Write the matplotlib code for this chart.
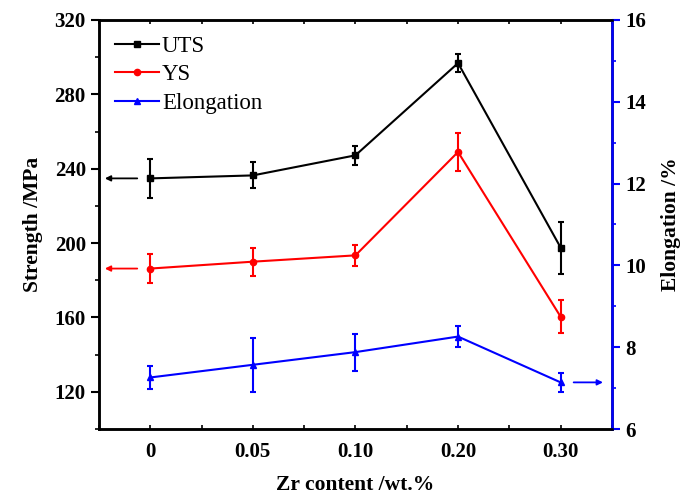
import matplotlib
matplotlib.use("Agg")
import matplotlib.pyplot as plt
import numpy as np
from matplotlib.ticker import MultipleLocator
from matplotlib.lines import Line2D

# =========================
# DATA
# =========================
zr_labels = ["0", "0.05", "0.10", "0.20", "0.30"]

uts = [234.8, 236.4, 247.2, 296.8, 197.6]
uts_err = [10.5, 7.0, 5.0, 5.0, 14.0]

ys = [186.3, 190.0, 193.4, 249.0, 160.4]
ys_err = [8.0, 7.5, 5.5, 10.0, 9.0]

elong = [7.26, 7.57, 7.88, 8.26, 7.14]
elong_err = [0.29, 0.66, 0.45, 0.25, 0.24]

# =========================
# STYLE
# =========================
plt.rcParams["font.family"] = ["Liberation Serif", "DejaVu Serif"]

x = np.arange(len(zr_labels))

fig = plt.figure(figsize=(6.86, 4.97), dpi=100)
ax = fig.add_axes([0.1443, 0.1368, 0.7477, 0.823])
ax2 = ax.twinx()

err_kw = dict(capsize=2.5, elinewidth=1.5, capthick=1.5, lw=1.5, markersize=4.5)
ax.errorbar(x, uts, yerr=uts_err, color="black", marker="s", **err_kw)
ax.errorbar(x, ys, yerr=ys_err, color="red", marker="o", **err_kw)
ax2.errorbar(x, elong, yerr=elong_err, color="blue", marker="^", **err_kw)

# arrows showing which axis each curve uses
arrow_kw = dict(arrowstyle="-|>", lw=1.3, mutation_scale=8)
ax.annotate("", xy=(-0.47, uts[0]), xytext=(-0.1, uts[0]),
            arrowprops=dict(color="black", **arrow_kw))
ax.annotate("", xy=(-0.47, ys[0]), xytext=(-0.1, ys[0]),
            arrowprops=dict(color="red", **arrow_kw))
ax2.annotate("", xy=(4.44, elong[-1]), xytext=(4.1, elong[-1]),
             arrowprops=dict(color="blue", **arrow_kw))

# =========================
# AXES
# =========================
ax.set_xlim(-0.5, 4.5)
ax.set_ylim(100, 320)
ax2.set_ylim(6, 16)

ax.set_xticks(x)
ax.set_xticklabels(zr_labels)
ax.xaxis.set_minor_locator(MultipleLocator(0.5))
ax.yaxis.set_major_locator(MultipleLocator(40))
ax.yaxis.set_minor_locator(MultipleLocator(20))
ax2.yaxis.set_major_locator(MultipleLocator(2))
ax2.yaxis.set_minor_locator(MultipleLocator(1))

ax.tick_params(axis="x", which="both", direction="in", top=True, width=1.2)
ax.tick_params(axis="x", which="major", length=3, pad=9)
ax.tick_params(axis="x", which="minor", length=3)
ax.tick_params(axis="y", which="major", direction="out", length=6, width=1.5)
ax.tick_params(axis="y", which="minor", direction="out", length=3, width=1.2)
ax2.tick_params(axis="y", which="major", direction="out", length=6, width=1.5, color="blue")
ax2.tick_params(axis="y", which="minor", direction="out", length=3, width=1.2, color="blue")

for a in (ax, ax2):
    for lab in a.get_xticklabels() + a.get_yticklabels():
        lab.set_fontsize(15)
        lab.set_fontweight("bold")

for s in ["left", "bottom", "top", "right"]:
    ax.spines[s].set_linewidth(1.8)
    ax2.spines[s].set_linewidth(1.8)
ax2.spines["right"].set_color("blue")

ax.set_xlabel("Zr content /wt.%", fontsize=15.5, fontweight="bold", labelpad=10)
ax.set_ylabel("Strength /MPa", fontsize=15.5, fontweight="bold", labelpad=8)
ax2.set_ylabel("Elongation /%", fontsize=15.5, fontweight="bold", labelpad=11)

handles = [
    Line2D([], [], color="black", marker="s", lw=1.5, markersize=4.5, label="UTS"),
    Line2D([], [], color="red", marker="o", lw=1.5, markersize=4.5, label="YS"),
    Line2D([], [], color="blue", marker="^", lw=1.5, markersize=4.5, label="Elongation"),
]
ax.legend(handles=handles, loc="upper left", frameon=False,
          fontsize=16.5, handlelength=1.9, handletextpad=0.15,
          labelspacing=0.32, borderaxespad=0.3)

fig.savefig("out.png", dpi=100)
